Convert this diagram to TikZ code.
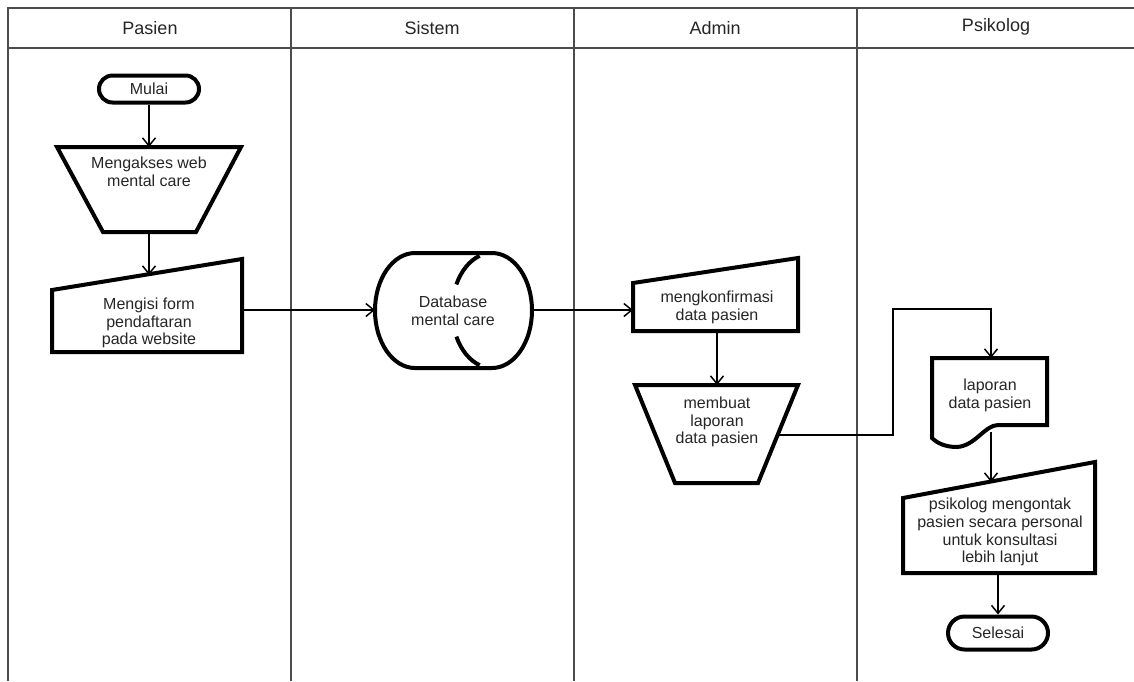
\documentclass[tikz,border=0pt]{standalone}
\usepackage{fontspec}
\setmainfont{Liberation Sans}
\usetikzlibrary{arrows.meta,shapes.misc}
\begin{document}
\begin{tikzpicture}[x=1pt,y=-1pt,
  lane/.style={draw=black!70, line width=1.1pt},
  hdr/.style={font=\fontsize{18}{20}\selectfont, text=black!85, inner sep=0pt},
  txt/.style={font=\fontsize{16}{17.8}\selectfont, text=black!85, align=center, inner sep=0pt},
  shp/.style={draw=black, line width=4pt},
  term/.style={rounded rectangle, draw=black, line width=4pt, font=\fontsize{16}{17.8}\selectfont, text=black!85, inner sep=0pt},
  arr/.style={draw=black, line width=1.5pt, -{Straight Barb[length=8pt,width=13pt,line width=1.5pt]}},
  conn/.style={draw=black, line width=1.5pt}
]
\useasboundingbox (0,0) rectangle (1134,681);
\fill[white] (0,0) rectangle (1134,681);

% swimlanes
\draw[lane] (1134,8) -- (8,8) -- (8,681);
\draw[lane] (8,48) -- (1134,48);
\draw[lane] (291,8) -- (291,681);
\draw[lane] (574,8) -- (574,681);
\draw[lane] (857,8) -- (857,681);
\node[hdr] (hpasien) at (150,28) {Pasien};
\node[hdr] (hsistem) at (432,28) {Sistem};
\node[hdr] (hadmin) at (715,28) {Admin};
\node[hdr] (hpsi) at (996,27) {Psikolog};

% Pasien
\node[term, minimum width=100pt, minimum height=27pt] (mulai) at (149,89) {Mulai};

\draw[shp] (57,147) -- (241,147) -- (196,232) -- (103,232) -- cycle;
\coordinate (akses-n) at (149,147);
\coordinate (akses-s) at (149,232);
\node[txt] (akses) at (149,172) {Mengakses web\\mental care};

\draw[shp] (52,290) -- (242,259) -- (242,352) -- (52,352) -- cycle;
\coordinate (form-n) at (149,275);
\coordinate (form-e) at (242,310);
\node[txt] (form) at (149,323) {Mengisi form\\pendaftaran\\pada website};

% Sistem: database
\draw[shp] (415,253) -- (492,253) arc[start angle=-90,end angle=90,x radius=40,y radius=57.5]
  -- (415,368) arc[start angle=90,end angle=270,x radius=40,y radius=57.5] -- cycle;
\draw[shp, shift={(492,310.5)}] (-108:40 and 57.5) arc[start angle=-108,end angle=-153,x radius=40,y radius=57.5];
\draw[shp, shift={(492,310.5)}] (153:40 and 57.5) arc[start angle=153,end angle=108,x radius=40,y radius=57.5];
\coordinate (db-w) at (375,310);
\coordinate (db-e) at (532,310);
\node[txt] (db) at (453,311) {Database\\mental care};

% Admin
\draw[shp] (633,283) -- (798,258) -- (798,331) -- (633,331) -- cycle;
\coordinate (konf-w) at (633,310);
\coordinate (konf-s) at (717,331);
\node[txt] (konf) at (717,307) {mengkonfirmasi\\data pasien};

\draw[shp] (635,385) -- (798,385) -- (758,483) -- (675,483) -- cycle;
\coordinate (buat-n) at (717,385);
\coordinate (buat-e) at (778,435);
\node[txt] (buat) at (717,422) {membuat\\laporan\\data pasien};

% Psikolog
\draw[shp] (932,358) -- (1047,358) -- (1047,425) -- (998,425)
  .. controls (985,425) and (975,446) .. (957,447)
  .. controls (945,447) and (937,443) .. (932,438) -- cycle;
\coordinate (lap-n) at (991,358);
\coordinate (lap-s) at (991,432);
\node[txt] (lap) at (990,395) {laporan\\data pasien};

\draw[shp] (903,498) -- (1095,462) -- (1095,573) -- (903,573) -- cycle;
\coordinate (psi-n) at (991,482);
\coordinate (psi-s) at (998,573);
\node[txt] (psi) at (1000,532) {psikolog mengontak\\pasien secara personal\\untuk konsultasi\\lebih lanjut};

\node[term, minimum width=100pt, minimum height=33pt] (selesai) at (998,633) {Selesai};

% connectors
\coordinate (via) at (893,309);
\draw[arr] (mulai) -- (akses-n);
\draw[arr] (akses-s) -- (form-n);
\draw[arr] (form-e) -- (db-w);
\draw[arr] (db-e) -- (konf-w);
\draw[arr] (konf-s) -- (buat-n);
\draw[arr] (buat-e) -| (via) -| (lap-n);
\draw[arr] (lap-s) -- (psi-n);
\draw[arr] (psi-s) -- (selesai);
\end{tikzpicture}
\end{document}
